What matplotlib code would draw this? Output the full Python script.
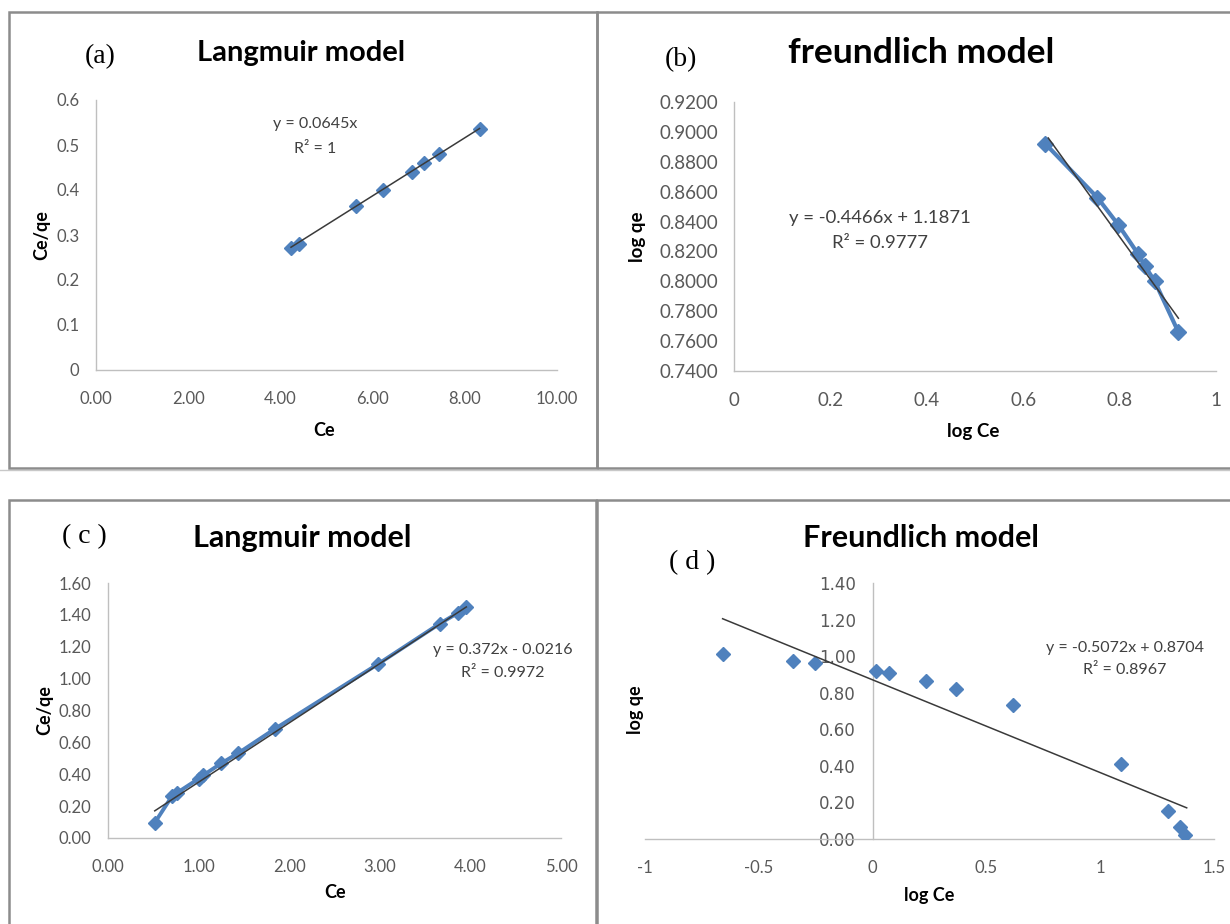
import matplotlib
matplotlib.use("Agg")
import matplotlib.pyplot as plt
from matplotlib.patches import Rectangle

W, H = 1230, 924
BLUE = "#4F81BD"
TICKC = "#595959"
AXC = "#BFBFBF"

# (a) Langmuir model, first sample
a_ce = [4.23, 4.41, 5.64, 6.22, 6.85, 7.12, 7.44, 8.32]
a_ceqe = [0.270, 0.281, 0.364, 0.400, 0.441, 0.459, 0.480, 0.536]
a_fit = (0.0645, 0.0)
a_eq = ["y = 0.0645x", "R² = 1"]

# (b) freundlich model, first sample
b_logce = [0.646, 0.754, 0.797, 0.839, 0.853, 0.873, 0.922]
b_logqe = [0.892, 0.856, 0.838, 0.818, 0.810, 0.800, 0.766]
b_fit = (-0.4466, 1.1871)
b_eq = ["y = -0.4466x + 1.1871", "R² = 0.9777"]

# (c) Langmuir model, second sample
c_ce = [0.516, 0.706, 0.761, 1.003, 1.053, 1.248, 1.434, 1.840,
        2.982, 3.659, 3.858, 3.955]
c_ceqe = [0.096, 0.262, 0.283, 0.373, 0.394, 0.468, 0.531, 0.684,
          1.092, 1.344, 1.411, 1.447]
c_fit = (0.372, -0.0216)
c_eq = ["y = 0.372x - 0.0216", "R² = 0.9972"]

# (d) Freundlich model, second sample
d_logce = [-0.659, -0.348, -0.254, 0.013, 0.073, 0.235, 0.368, 0.615,
           1.091, 1.296, 1.349, 1.372]
d_logqe = [1.012, 0.975, 0.962, 0.917, 0.908, 0.866, 0.822, 0.731,
           0.412, 0.155, 0.064, 0.024]
d_fit = (-0.5072, 0.8704)
d_eq = ["y = -0.5072x + 0.8704", "R² = 0.8967"]


def fx(x):
    return x / W


def fy(y):
    return 1 - y / H


def pxAxes(fig, x0, y0, x1, y1):
    # axes placed by its pixel corners (top-left origin)
    return fig.add_axes([x0 / W, 1 - y1 / H, (x1 - x0) / W, (y1 - y0) / H])


def styleAxes(ax, xlim, ylim, xticks, yticks, xfmt, yfmt,
              size=12, xpad=15, ypad=12):
    ax.set_xlim(*xlim)
    ax.set_ylim(*ylim)
    ax.set_xticks(xticks)
    ax.set_yticks(yticks)
    ax.set_xticklabels([xfmt(v) for v in xticks])
    ax.set_yticklabels([yfmt(v) for v in yticks])
    for s in ["top", "right"]:
        ax.spines[s].set_visible(False)
    for s in ["left", "bottom"]:
        ax.spines[s].set_color(AXC)
        ax.spines[s].set_linewidth(1.0)
    ax.tick_params(axis="x", length=0, pad=xpad, labelsize=size,
                   labelcolor=TICKC)
    ax.tick_params(axis="y", length=0, pad=ypad, labelsize=size,
                   labelcolor=TICKC)
    for lab in ax.get_xticklabels() + ax.get_yticklabels():
        lab.set_fontfamily("Lato")
    ax.patch.set_alpha(0)


def trend(ax, fit, x0, x1):
    m, b = fit
    ax.plot([x0, x1], [m * x0 + b, m * x1 + b], color="#3a3a3a", lw=1.1,
            zorder=4)


def labels(fig, title, tsize, tpos, letter, lpos, xlab, xpos, ylab, ypos,
           eq, esize, epos, gap, lsize=13):
    fig.text(fx(tpos[0]), fy(tpos[1]), title, fontsize=tsize,
             fontweight="bold", family="Lato", ha="center", va="center")
    fig.text(fx(lpos[0]), fy(lpos[1]), letter, fontsize=20,
             family="Liberation Serif", ha="center", va="center")
    fig.text(fx(xpos[0]), fy(xpos[1]), xlab, fontsize=lsize,
             fontweight="bold", family="Lato", ha="center", va="center")
    fig.text(fx(ypos[0]), fy(ypos[1]), ylab, fontsize=lsize,
             fontweight="bold", family="Lato", ha="center", va="center",
             rotation=90)
    fig.text(fx(epos[0]), fy(epos[1]), eq[0], fontsize=esize, family="Lato",
             color="#404040", ha="center", va="center")
    fig.text(fx(epos[0]), fy(epos[1] + gap), eq[1], fontsize=esize,
             family="Lato", color="#404040", ha="center", va="center")


fig = plt.figure(figsize=(W / 100, H / 100), dpi=100)
fig.patch.set_facecolor("white")

# panel frames
frameC = "#8C8C8C"
for (x0, y0, x1, y1) in [(9, 12, 597, 468), (597, 12, 1232, 468),
                         (9, 500, 596, 930), (597, 500, 1232, 930)]:
    fig.patches.append(Rectangle((fx(x0), fy(y1)), (x1 - x0) / W,
                                 (y1 - y0) / H, transform=fig.transFigure,
                                 fill=False, edgecolor=frameC, lw=1.8))
fig.add_artist(plt.Line2D([0, 1], [fy(470), fy(470)], color="#C8C8C8",
                          lw=1.0, transform=fig.transFigure))

# (a)
ax = pxAxes(fig, 96, 100, 557, 370)
styleAxes(ax, (0, 10), (0, 0.6), [0, 2, 4, 6, 8, 10],
          [0, 0.1, 0.2, 0.3, 0.4, 0.5, 0.6],
          lambda v: f"{v:.2f}", lambda v: "0" if v == 0 else f"{v:.1f}",
          size=12)
ax.plot(a_ce, a_ceqe, ls="none", marker="D", ms=7.5, color=BLUE, zorder=3)
trend(ax, a_fit, a_ce[0], a_ce[-1])
labels(fig, "Langmuir model", 21, (301, 53), "(a)", (100, 57), "Ce",
       (324, 430), "Ce/qe", (42, 235), a_eq, 11.5, (315, 124), 25)

# (b)
ax = pxAxes(fig, 734, 102, 1216, 371)
styleAxes(ax, (0, 1), (0.74, 0.92), [0, 0.2, 0.4, 0.6, 0.8, 1],
          [0.74 + 0.02 * i for i in range(10)],
          lambda v: f"{v:g}", lambda v: f"{v:.4f}", size=13.5, ypad=11)
ax.plot(b_logce, b_logqe, lw=3, marker="D", ms=8.5, color=BLUE, zorder=3)
trend(ax, b_fit, 0.652, b_logce[-1])
labels(fig, "freundlich model", 25.5, (921, 53), "(b)", (681, 60), "log Ce",
       (973, 432), "log qe", (637, 237), b_eq, 13.3, (880, 218), 25,
       lsize=13.5)

# (c)
ax = pxAxes(fig, 108, 583, 561, 838)
styleAxes(ax, (0, 5), (0, 1.6), [0, 1, 2, 3, 4, 5],
          [0.2 * i for i in range(9)],
          lambda v: f"{v:.2f}", lambda v: f"{v:.2f}", size=12)
ax.plot(c_ce, c_ceqe, lw=2.8, marker="D", ms=7.5, color=BLUE, zorder=3)
trend(ax, c_fit, c_ce[0], c_ce[-1])
labels(fig, "Langmuir model", 22, (302, 538), "( c )", (84, 537), "Ce",
       (335, 893), "Ce/qe", (45, 710), c_eq, 11.5, (503, 650), 23)

# (d)
ax = pxAxes(fig, 645, 583, 1214, 839)
styleAxes(ax, (-1, 1.5), (0, 1.4), [-1, -0.5, 0, 0.5, 1, 1.5],
          [0.2 * i for i in range(8)],
          lambda v: f"{v:g}", lambda v: f"{v:.2f}", size=12)
ax.spines["left"].set_position(("data", 0))
ax.plot(d_logce, d_logqe, ls="none", marker="D", ms=7, color=BLUE, zorder=3)
trend(ax, d_fit, d_logce[0], 1.38)
labels(fig, "Freundlich model", 22, (921, 538), "( d )", (692, 563),
       "log Ce", (929, 895), "log qe", (636, 710), d_eq, 11.5, (1125, 648),
       22)

fig.savefig("out.png", dpi=100)
